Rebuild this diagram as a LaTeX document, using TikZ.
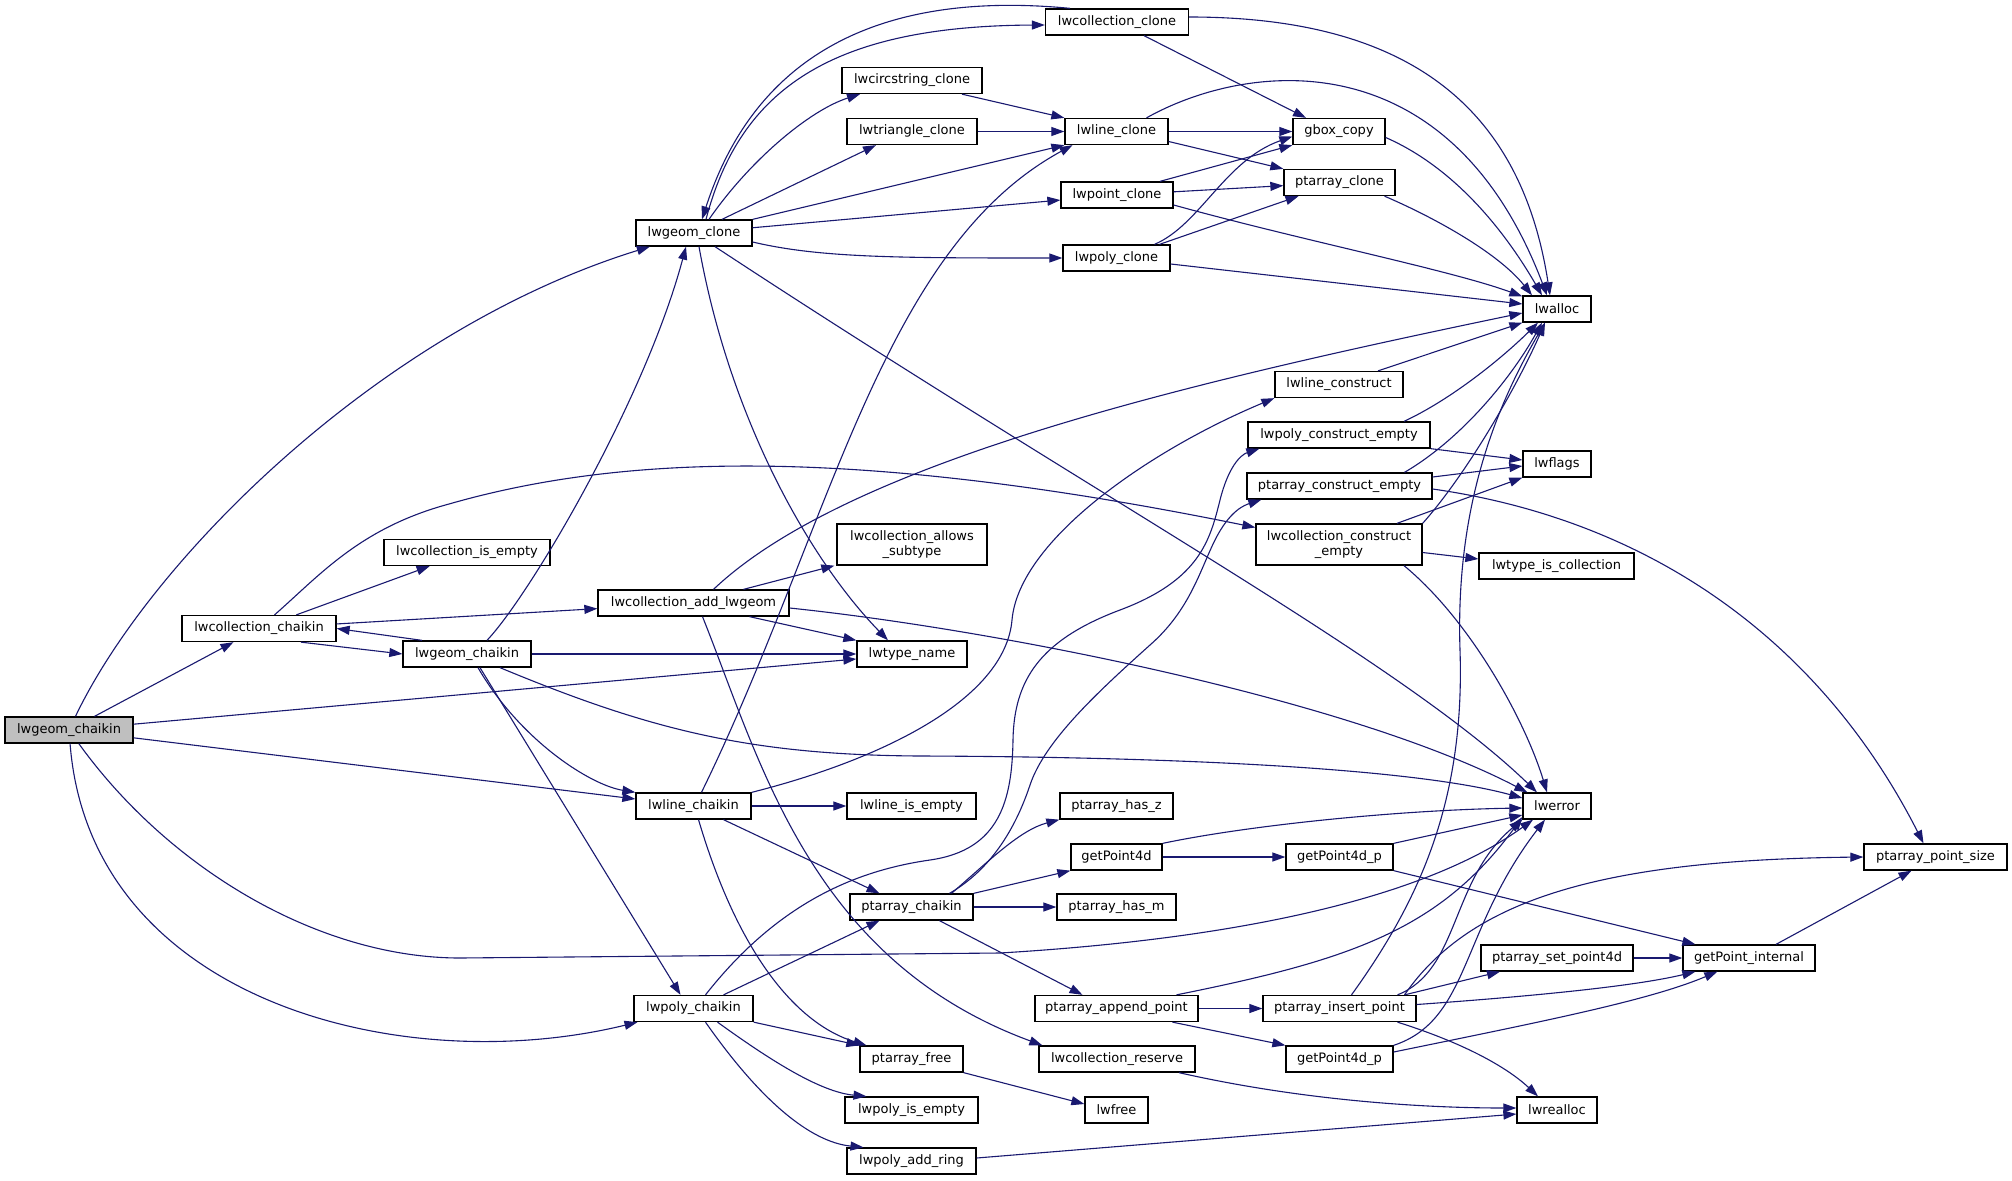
\documentclass[tikz,border=0pt]{standalone}
\usepackage{fontspec}
\setmainfont{DejaVu Sans}
\usetikzlibrary{arrows.meta}
\definecolor{edgecol}{RGB}{25,25,112}
\definecolor{rootfill}{RGB}{191,191,191}
\begin{document}
\begin{tikzpicture}[x=1pt,y=-1pt,
  box/.style={draw=black, fill=white, line width=1.3pt, inner sep=0pt, minimum height=26pt, font=\fontsize{13}{15}\selectfont, align=center},
  conn/.style={draw=edgecol, line width=1.1pt, -{Triangle[length=13pt,width=9pt]}}]
\fill[white] (0,0) rectangle (2012,1180);
\useasboundingbox (0,0) rectangle (2012,1180);
% nodes
\node[box, fill=rootfill, minimum width=128pt] (root) at (69,730) {lwgeom\_chaikin};
\node[box, minimum width=116pt] (clone) at (694,233) {lwgeom\_clone};
\node[box, minimum width=143pt] (collclone) at (1117,22) {lwcollection\_clone};
\node[box, minimum width=140pt] (circclone) at (912,80.5) {lwcircstring\_clone};
\node[box, minimum width=130pt] (triclone) at (912,131.5) {lwtriangle\_clone};
\node[box, minimum width=103pt] (lineclone) at (1116.5,131.5) {lwline\_clone};
\node[box, minimum width=92pt] (gbox) at (1339,131.5) {gbox\_copy};
\node[box, minimum width=111pt] (ptclone) at (1339.5,182.5) {ptarray\_clone};
\node[box, minimum width=112pt] (pointclone) at (1117,195) {lwpoint\_clone};
\node[box, minimum width=107pt] (polyclone) at (1116.5,258) {lwpoly\_clone};
\node[box, minimum width=68pt] (alloc) at (1557,309) {lwalloc};
\node[box, minimum width=128pt] (lineconstruct) at (1339,384.5) {lwline\_construct};
\node[box, minimum width=182pt] (polyconstruct) at (1339,435) {lwpoly\_construct\_empty};
\node[box, minimum width=68pt] (flags) at (1557,464) {lwflags};
\node[box, minimum width=185pt] (ptconstruct) at (1339.5,486) {ptarray\_construct\_empty};
\node[box, minimum width=166pt, minimum height=41pt] (collconstruct) at (1339,544.5) {lwcollection\_construct\\\_empty};
\node[box, minimum width=155pt] (typeiscoll) at (1556.5,566) {lwtype\_is\_collection};
\node[box, minimum width=166pt] (collisempty) at (467,552.5) {lwcollection\_is\_empty};
\node[box, minimum width=150pt, minimum height=41pt] (allows) at (912,544.5) {lwcollection\_allows\\\_subtype};
\node[box, minimum width=191pt] (addlwgeom) at (693.5,603) {lwcollection\_add\_lwgeom};
\node[box, minimum width=154pt] (collchaikin) at (259,628.5) {lwcollection\_chaikin};
\node[box, minimum width=128pt] (geomchaikin) at (467,654) {lwgeom\_chaikin};
\node[box, minimum width=110pt] (typename) at (912,654) {lwtype\_name};
\node[box, minimum width=115pt] (linechaikin) at (693.5,806) {lwline\_chaikin};
\node[box, minimum width=129pt] (lineisempty) at (911.5,806) {lwline\_is\_empty};
\node[box, minimum width=68pt] (error) at (1557,806) {lwerror};
\node[box, minimum width=113pt] (hasz) at (1116.5,806) {ptarray\_has\_z};
\node[box, minimum width=91pt] (gp4d) at (1116.5,857) {getPoint4d};
\node[box, minimum width=107pt] (gp4dp1) at (1339.5,857) {getPoint4d\_p};
\node[box, minimum width=143pt] (ptsize) at (1935.5,857) {ptarray\_point\_size};
\node[box, minimum width=123pt] (ptchaikin) at (911.5,907) {ptarray\_chaikin};
\node[box, minimum width=119pt] (hasm) at (1116.5,907) {ptarray\_has\_m};
\node[box, minimum width=119pt] (polychaikin) at (693.5,1008.5) {lwpoly\_chaikin};
\node[box, minimum width=163pt] (append) at (1116.5,1008.5) {ptarray\_append\_point};
\node[box, minimum width=153pt] (insert) at (1339.5,1008.5) {ptarray\_insert\_point};
\node[box, minimum width=152pt] (setp4d) at (1557,958) {ptarray\_set\_point4d};
\node[box, minimum width=132pt] (getint) at (1749,958) {getPoint\_internal};
\node[box, minimum width=156pt] (reserve) at (1117,1059) {lwcollection\_reserve};
\node[box, minimum width=107pt] (gp4dp2) at (1339.5,1059) {getPoint4d\_p};
\node[box, minimum width=103pt] (ptfree) at (911.5,1059) {ptarray\_free};
\node[box, minimum width=63pt] (lwfree) at (1116.5,1110) {lwfree};
\node[box, minimum width=80pt] (realloc) at (1557,1110) {lwrealloc};
\node[box, minimum width=133pt] (polyisempty) at (911.5,1110) {lwpoly\_is\_empty};
\node[box, minimum width=129pt] (addring) at (911.5,1161) {lwpoly\_add\_ring};
% edges from root
\draw[conn] (root) .. controls (150,560) and (380,330) .. (clone);
\draw[conn] (root) -- (collchaikin);
\draw[conn] (root) -- (typename);
\draw[conn] (root) -- (linechaikin);
\draw[conn] (root) .. controls (170,870) and (320,958) .. (460,958) -- (1000,953) .. controls (1300,935) and (1450,880) .. ([xshift=-24pt]error.south);
\draw[conn] (root) .. controls (90,1000) and (400,1080) .. (polychaikin);
% lwcollection_chaikin
\draw[conn] (collchaikin) -- (collisempty);
\draw[conn] (collchaikin) .. controls (320,575) and (360,528) .. (449,504) .. controls (620,455) and (850,445) .. (collconstruct);
\draw[conn] (collchaikin) -- (addlwgeom);
\draw[conn] ([xshift=42pt]collchaikin.south) -- (geomchaikin.west);
% lwgeom_chaikin (2)
\draw[conn] ([xshift=-45pt]geomchaikin.north) -- (collchaikin.east);
\draw[conn] ([xshift=20pt]geomchaikin.north) .. controls (530,595) and (645,400) .. ([xshift=-8pt]clone.south);
\draw[conn] (geomchaikin) -- (typename);
\draw[conn] ([xshift=33pt]geomchaikin.south) .. controls (650,730) and (750,755) .. (920,756) .. controls (1200,757) and (1420,770) .. ([yshift=8pt]error.west);
\draw[conn] ([xshift=11pt]geomchaikin.south) .. controls (520,740) and (590,785) .. (linechaikin.north west);
\draw[conn] ([xshift=13pt]geomchaikin.south) -- ([xshift=-13pt]polychaikin.north);
% lwgeom_clone
\draw[conn] ([xshift=12pt]clone.north) .. controls (740,90) and (830,26) .. ([yshift=-3pt]collclone.west);
\draw[conn] ([xshift=-47pt]collclone.north) .. controls (900,-8) and (760,40) .. ([xshift=8pt]clone.north);
\draw[conn] ([xshift=15pt]clone.north) .. controls (750,160) and (810,110) .. ([xshift=-52pt]circclone.south);
\draw[conn] ([xshift=28pt]clone.north) -- ([xshift=-36pt]triclone.south);
\draw[conn] (clone.north east) -- (lineclone.south west);
\draw[conn] (clone) -- (pointclone);
\draw[conn] ([yshift=-9pt]clone.east) .. controls (820,258) and (900,258) .. (polyclone.west);
\draw[conn] ([xshift=5pt]clone.south) .. controls (730,420) and (810,560) .. ([xshift=-24pt]typename.north);
\draw[conn] ([xshift=21pt]clone.south) .. controls (1100,500) and (1400,660) .. ([xshift=-20pt]error.north);
% lwcollection_clone
\draw[conn] ([xshift=27pt]collclone.south) -- ([xshift=-33pt]gbox.north);
\draw[conn] ([yshift=5pt]collclone.east) .. controls (1400,17) and (1520,100) .. ([xshift=-7pt]alloc.north);
% clones
\draw[conn] ([xshift=50pt]circclone.south) -- (lineclone.north west);
\draw[conn] (triclone) -- (lineclone);
\draw[conn] (lineclone) -- (gbox);
\draw[conn] ([yshift=-10pt]lineclone.east) -- (ptclone.north west);
\draw[conn] ([xshift=30pt]lineclone.north) .. controls (1250,60) and (1450,40) .. ([xshift=-10pt]alloc.north);
\draw[conn] ([xshift=43pt]pointclone.north) -- (gbox.south west);
\draw[conn] (pointclone) -- (ptclone);
\draw[conn] ([yshift=-10pt]pointclone.east) .. controls (1300,240) and (1450,270) .. (alloc);
\draw[conn] ([xshift=38pt]polyclone.north) .. controls (1200,225) and (1225,160) .. ([yshift=-5pt]gbox.west);
\draw[conn] ([xshift=43pt]polyclone.north) -- ([xshift=-41pt]ptclone.south);
\draw[conn] ([yshift=-6pt]polyclone.east) -- ([yshift=5pt]alloc.west);
\draw[conn] ([yshift=-6pt]gbox.east) .. controls (1460,170) and (1510,240) .. ([xshift=-15pt]alloc.north);
\draw[conn] ([xshift=45pt]ptclone.south) .. controls (1440,220) and (1500,255) .. ([xshift=-25pt]alloc.north);
% constructors
\draw[conn] ([xshift=39pt]lineconstruct.north) -- (alloc.south west);
\draw[conn] ([xshift=65pt]polyconstruct.north) .. controls (1450,400) and (1500,360) .. ([xshift=-19pt]alloc.south);
\draw[conn] (polyconstruct.south east) -- ([yshift=4pt]flags.west);
\draw[conn] ([xshift=65pt]ptconstruct.north) .. controls (1460,440) and (1510,380) .. ([xshift=-15pt]alloc.south);
\draw[conn] ([yshift=9pt]ptconstruct.east) -- ([yshift=-2pt]flags.west);
\draw[conn] ([yshift=-3pt]ptconstruct.east) .. controls (1650,520) and (1820,640) .. ([xshift=-12pt]ptsize.north);
\draw[conn] (collconstruct.north east) .. controls (1470,470) and (1520,380) .. ([xshift=-12pt]alloc.south);
\draw[conn] ([xshift=58pt]collconstruct.north) -- (flags.south west);
\draw[conn] ([yshift=-8pt]collconstruct.east) -- ([yshift=7pt]typeiscoll.west);
\draw[conn] ([xshift=65pt]collconstruct.south) .. controls (1470,620) and (1525,720) .. ([xshift=-10pt]error.north);
% lwcollection_add_lwgeom
\draw[conn] ([xshift=50pt]addlwgeom.north) -- ([xshift=-2pt]allows.south west);
\draw[conn] ([xshift=20pt]addlwgeom.north) .. controls (850,460) and (1200,380) .. ([yshift=-4pt]alloc.west);
\draw[conn] ([xshift=56pt]addlwgeom.south) -- (typename.north west);
\draw[conn] ([yshift=-5pt]addlwgeom.east) .. controls (1000,630) and (1350,700) .. ([xshift=5pt]error.north west);
\draw[conn] ([xshift=9pt]addlwgeom.south) .. controls (760,760) and (810,960) .. ([xshift=4pt]reserve.north west);
% lwline_chaikin
\draw[conn] ([xshift=8pt]linechaikin.north) .. controls (830,530) and (880,250) .. ([xshift=-44pt]lineclone.south);
\draw[conn] (linechaikin) -- (lineisempty);
\draw[conn] ([xshift=30pt]linechaikin.south) -- ([xshift=-32pt]ptchaikin.north);
\draw[conn] ([xshift=5pt]linechaikin.south) .. controls (740,960) and (800,1025) .. ([xshift=-45pt]ptfree.north);
\draw[conn] (linechaikin.north east) .. controls (880,760) and (1005,700) .. (1012,620) .. controls (1019,540) and (1150,450) .. (lineconstruct.south west);
% lwpoly_chaikin
\draw[conn] ([xshift=30pt]polychaikin.north) -- ([xshift=-32pt]ptchaikin.south);
\draw[conn] (polychaikin.south east) -- (ptfree.north west);
\draw[conn] ([xshift=24pt]polychaikin.south) .. controls (770,1060) and (820,1092) .. ([xshift=-45pt]polyisempty.north);
\draw[conn] ([xshift=12pt]polychaikin.south) .. controls (760,1100) and (810,1142) .. ([xshift=-48pt]addring.north);
\draw[conn] ([xshift=12pt]polychaikin.north) .. controls (780,900) and (860,870) .. (930,860) .. controls (1000,850) and (1012,800) .. (1013,740) .. controls (1014,680) and (1040,640) .. (1120,610) .. controls (1200,580) and (1210,540) .. (1220,500) .. controls (1228,468) and (1240,455) .. ([xshift=12pt]polyconstruct.south west);
% ptarray_chaikin
\draw[conn] ([xshift=40pt]ptchaikin.north) .. controls (990,860) and (1020,830) .. (hasz.south west);
\draw[conn] (ptchaikin.north east) -- (gp4d.south west);
\draw[conn] (ptchaikin) -- (hasm);
\draw[conn] ([xshift=28pt]ptchaikin.south) -- ([xshift=-34pt]append.north);
\draw[conn] ([xshift=38pt]ptchaikin.north) .. controls (990,870) and (1015,830) .. (1030,785) .. controls (1045,740) and (1100,690) .. (1150,645) .. controls (1190,610) and (1200,570) .. (1215,540) .. controls (1230,510) and (1245,505) .. ([xshift=15pt]ptconstruct.south west);
% getPoint4d etc
\draw[conn] (gp4d) -- (gp4dp1);
\draw[conn] (gp4d.north east) .. controls (1250,825) and (1400,810) .. ([yshift=-2pt]error.west);
\draw[conn] (gp4dp1.north east) -- ([yshift=-9pt]error.west);
\draw[conn] (gp4dp1.south east) -- ([xshift=13pt]getint.north west);
\draw[conn] ([yshift=7pt]gp4dp2.east) .. controls (1550,1020) and (1650,1000) .. ([xshift=35pt]getint.south west);
\draw[conn] (gp4dp2.north east) .. controls (1470,1020) and (1460,930) .. ([xshift=-12pt]error.south);
% append / insert
\draw[conn] (append) -- (insert);
\draw[conn] ([xshift=56pt]append.south) -- (gp4dp2.north west);
\draw[conn] ([xshift=60pt]append.north) .. controls (1350,960) and (1440,930) .. ([yshift=-11pt]error.west);
\draw[conn] ([xshift=58pt]insert.north) .. controls (1460,970) and (1450,880) .. (error.south west);
\draw[conn] ([xshift=12pt]insert.north) .. controls (1420,900) and (1465,800) .. (1460,650) .. controls (1455,500) and (1500,400) .. ([xshift=-12pt]alloc.south);
\draw[conn] ([xshift=65pt]insert.north) -- ([xshift=-57pt]setp4d.south);
\draw[conn] ([yshift=4pt]insert.east) .. controls (1550,995) and (1640,985) .. ([xshift=13pt]getint.south west);
\draw[conn] ([xshift=65pt]insert.north) .. controls (1470,900) and (1600,860) .. (ptsize.west);
\draw[conn] ([xshift=58pt]insert.south) .. controls (1470,1045) and (1510,1070) .. ([xshift=-19pt]realloc.north);
% remaining
\draw[conn] (setp4d) -- (getint);
\draw[conn] ([xshift=27pt]getint.north) -- ([xshift=-24pt]ptsize.south);
\draw[conn] ([xshift=62pt]reserve.south) .. controls (1300,1100) and (1420,1108) .. ([yshift=2pt]realloc.west);
\draw[conn] (ptfree.south east) -- ([yshift=6pt]lwfree.west);
\draw[conn] ([yshift=3pt]addring.east) -- ([yshift=-4pt]realloc.west);
\end{tikzpicture}
\end{document}
